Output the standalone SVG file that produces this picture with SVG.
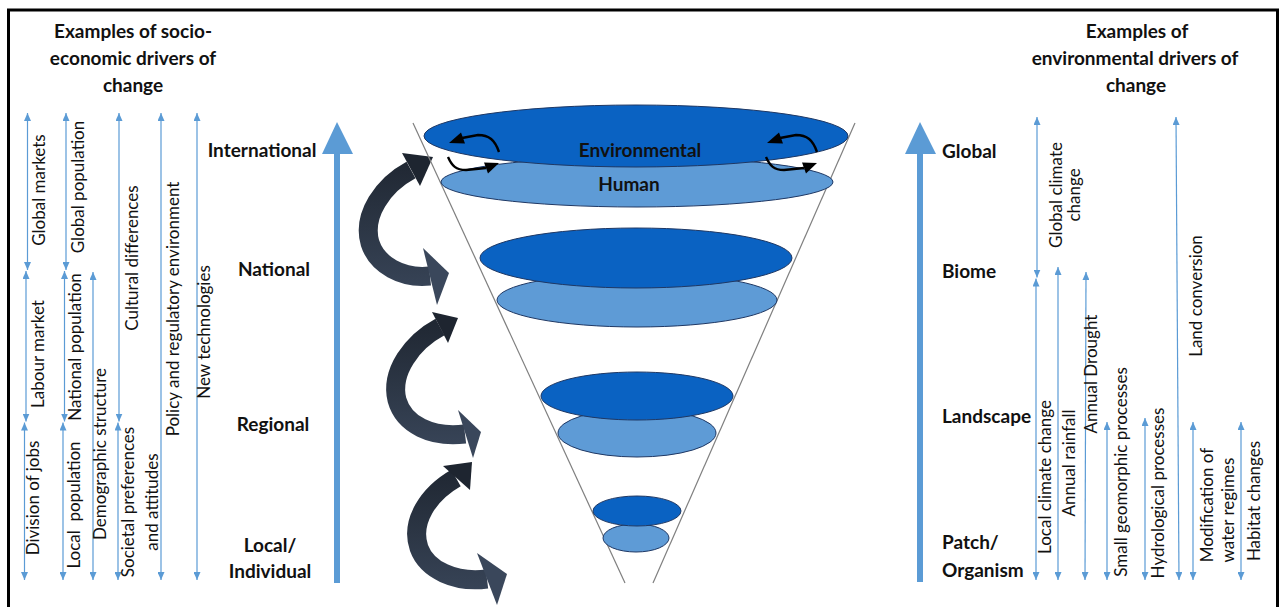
<svg xmlns="http://www.w3.org/2000/svg" width="1282" height="607" viewBox="0 0 1282 607">
<style>
.t{font-family:Lato,"Liberation Sans",sans-serif;fill:#111}
.h{font-size:19px;font-weight:bold;text-anchor:middle}
.s{font-size:19px;font-weight:bold}
.v{font-size:17px;text-anchor:middle}
.thin{stroke:#5B9BD5;stroke-width:1.2;fill:none;marker-start:url(#ah);marker-end:url(#ah)}
.dk{fill:#0A62C2;stroke:#1F3864;stroke-width:1}
.lt{fill:#5E9BD6;stroke:#1F3864;stroke-width:1}
.vl{stroke:#7F7F7F;stroke-width:1.2;fill:none}
.cb{fill:none;stroke:#000;stroke-width:2.4}
.big{fill:#5B9BD5}
</style>
<defs>
<marker id="ah" viewBox="0 0 8 7" refX="8" refY="3.5" markerWidth="8" markerHeight="7" orient="auto-start-reverse" markerUnits="userSpaceOnUse"><path d="M0,0 L8,3.5 L0,7 z" fill="#5B9BD5"/></marker>
<linearGradient id="g1" gradientUnits="userSpaceOnUse" x1="0" y1="150" x2="0" y2="305"><stop offset="0" stop-color="#1E2530"/><stop offset="0.5" stop-color="#2C3645"/><stop offset="1" stop-color="#3A475B"/></linearGradient>
<linearGradient id="g2" gradientUnits="userSpaceOnUse" x1="0" y1="312" x2="0" y2="458"><stop offset="0" stop-color="#1E2530"/><stop offset="0.5" stop-color="#2C3645"/><stop offset="1" stop-color="#3A475B"/></linearGradient>
<linearGradient id="g3" gradientUnits="userSpaceOnUse" x1="0" y1="462" x2="0" y2="605"><stop offset="0" stop-color="#1E2530"/><stop offset="0.5" stop-color="#2C3645"/><stop offset="1" stop-color="#3A475B"/></linearGradient>
</defs>
<rect x="0" y="0" width="1282" height="607" fill="#fff"/>
<rect x="8.5" y="10" width="1269" height="612" fill="none" stroke="#000" stroke-width="3"/>

<g id="header-left">
<text class="t h" x="133" y="38">Examples of socio-</text>
<text class="t h" x="133" y="65">economic drivers of</text>
<text class="t h" x="133" y="92">change</text>
</g>
<g id="header-right">
<text class="t h" x="1137" y="38">Examples of</text>
<text class="t h" x="1135" y="65">environmental drivers of</text>
<text class="t h" x="1136" y="92">change</text>
</g>

<g id="connectors">
<line class="thin" x1="27.5" y1="113" x2="27.5" y2="270"/>
<line class="thin" x1="26" y1="271" x2="26" y2="421.5"/>
<line class="thin" x1="24.5" y1="422.5" x2="24.5" y2="580"/>
<line class="thin" x1="66" y1="113" x2="66" y2="270"/>
<line class="thin" x1="64.5" y1="271" x2="64.5" y2="421.5"/>
<line class="thin" x1="63" y1="422.5" x2="63" y2="580"/>
<line class="thin" x1="93" y1="272" x2="93" y2="580"/>
<line class="thin" x1="119" y1="113" x2="119" y2="421.5"/>
<line class="thin" x1="118" y1="422.5" x2="118" y2="580"/>
<line class="thin" x1="161" y1="113" x2="161" y2="580"/>
<line class="thin" x1="197" y1="113" x2="197" y2="580"/>
<line class="thin" x1="1037" y1="117" x2="1037" y2="277.5"/>
<line class="thin" x1="1036" y1="278.5" x2="1036" y2="580"/>
<line class="thin" x1="1058" y1="267" x2="1058" y2="580"/>
<line class="thin" x1="1086" y1="272" x2="1085" y2="580"/>
<line class="thin" x1="1107" y1="422" x2="1107" y2="580"/>
<line class="thin" x1="1145" y1="418" x2="1145" y2="580"/>
<line class="thin" x1="1176" y1="117" x2="1179" y2="580"/>
<line class="thin" x1="1193" y1="422" x2="1193" y2="580"/>
<line class="thin" x1="1241" y1="422" x2="1241" y2="580"/>
<rect class="big" x="334" y="150" width="6" height="433"/>
<polygon class="big" points="322,154 337,122 353,154"/>
<rect class="big" x="917" y="150" width="6" height="432"/>
<polygon class="big" points="905,154 920,122 936,154"/>
<path d="M411,170 C383,185 362,215 370,243 C377,265 402,279 430,276" fill="none" stroke="url(#g1)" stroke-width="19"/>
<polygon points="402,153 420,186 433,157" fill="#1E2530"/>
<polygon points="423,248 437,305 449,273" fill="#3A475B"/>
<path d="M440,327 C412,342 390,372 397,400 C404,425 432,438 465,434" fill="none" stroke="url(#g2)" stroke-width="19"/>
<polygon points="432,312 448,343 458,318" fill="#1E2530"/>
<polygon points="458,410 473,458 481,432" fill="#3A475B"/>
<path d="M456,478 C428,494 410,522 419,548 C427,570 455,583 487,579" fill="none" stroke="url(#g3)" stroke-width="19"/>
<polygon points="443,466 470,490 472,462" fill="#1E2530"/>
<polygon points="477,553 497,605 507,574" fill="#3A475B"/>
</g>

<g id="funnel">
<line class="vl" x1="413" y1="123" x2="625" y2="583"/>
<line class="vl" x1="855" y1="123" x2="653" y2="583"/>
</g>

<g id="level-international">
<ellipse class="lt" cx="637" cy="182" rx="196" ry="25"/>
<ellipse class="dk" cx="636" cy="136" rx="212" ry="31"/>
<text class="t h" x="640" y="157">Environmental</text>
<text class="t h" x="629" y="191">Human</text>
<path class="cb" d="M499,152 C495,140 489,135 478,135 L462,138"/>
<polygon points="449,143 461,132.4 465,143.6" fill="#000"/>
<path class="cb" d="M448,157 C452,166 456,170 466,170 L486,168"/>
<polygon points="499,163 484,162.4 488,173.6" fill="#000"/>
<path class="cb" d="M817,152 C813,140 807,135 796,135 L780,138"/>
<polygon points="767,143 779,132.4 783,143.6" fill="#000"/>
<path class="cb" d="M766,157 C770,166 774,170 784,170 L804,168"/>
<polygon points="817,163 802,162.4 806,173.6" fill="#000"/>
</g>
<g id="level-national">
<ellipse class="lt" cx="637" cy="300" rx="140" ry="27"/>
<ellipse class="dk" cx="636" cy="258" rx="156" ry="30"/>
</g>
<g id="level-regional">
<ellipse class="lt" cx="637" cy="433" rx="79" ry="24"/>
<ellipse class="dk" cx="637" cy="396" rx="96" ry="24"/>
</g>
<g id="level-local">
<ellipse class="lt" cx="636" cy="538" rx="33" ry="14"/>
<ellipse class="dk" cx="637" cy="511" rx="44" ry="15"/>
</g>

<g id="scale-left">
<text class="t h" x="262" y="157">International</text>
<text class="t h" x="274" y="276">National</text>
<text class="t h" x="273" y="431">Regional</text>
<text class="t h" x="270" y="552">Local/</text>
<text class="t h" x="270" y="578">Individual</text>
</g>
<g id="scale-right">
<text class="t s" x="942" y="158">Global</text>
<text class="t s" x="942" y="278">Biome</text>
<text class="t s" x="942" y="423">Landscape</text>
<text class="t s" x="942" y="549">Patch/</text>
<text class="t s" x="942" y="577">Organism</text>
</g>

<g id="socio-drivers">
<text class="t v" transform="translate(45,190) rotate(-90)">Global markets</text>
<text class="t v" transform="translate(44,354) rotate(-90)">Labour market</text>
<text class="t v" transform="translate(38.5,498) rotate(-90)">Division of jobs</text>
<text class="t v" transform="translate(84,187) rotate(-90)">Global population</text>
<text class="t v" transform="translate(81,347) rotate(-90)">National population</text>
<text class="t v" transform="translate(80,505) rotate(-90)" xml:space="preserve">Local  population</text>
<text class="t v" transform="translate(106,454) rotate(-90)">Demographic structure</text>
<text class="t v" transform="translate(138,258) rotate(-90)">Cultural differences</text>
<text class="t v" transform="translate(134,502) rotate(-90)">Societal preferences</text>
<text class="t v" transform="translate(158,502) rotate(-90)">and attitudes</text>
<text class="t v" transform="translate(179,309) rotate(-90)">Policy and regulatory environment</text>
<text class="t v" transform="translate(210,332) rotate(-90)">New technologies</text>
</g>

<g id="env-drivers">
<text class="t v" transform="translate(1062,195) rotate(-90)">Global climate</text>
<text class="t v" transform="translate(1080,195) rotate(-90)">change</text>
<text class="t v" transform="translate(1051,477) rotate(-90)">Local climate change</text>
<text class="t v" transform="translate(1075,463) rotate(-90)">Annual rainfall</text>
<text class="t v" transform="translate(1097,374) rotate(-90)">Annual Drought</text>
<text class="t v" transform="translate(1127,472) rotate(-90)">Small geomorphic processes</text>
<text class="t v" transform="translate(1164,493) rotate(-90)">Hydrological processes</text>
<text class="t v" transform="translate(1202,296) rotate(-90)">Land conversion</text>
<text class="t v" transform="translate(1213,505) rotate(-90)">Modification of</text>
<text class="t v" transform="translate(1234,510) rotate(-90)">water regimes</text>
<text class="t v" transform="translate(1260,501) rotate(-90)">Habitat changes</text>
</g>
</svg>
